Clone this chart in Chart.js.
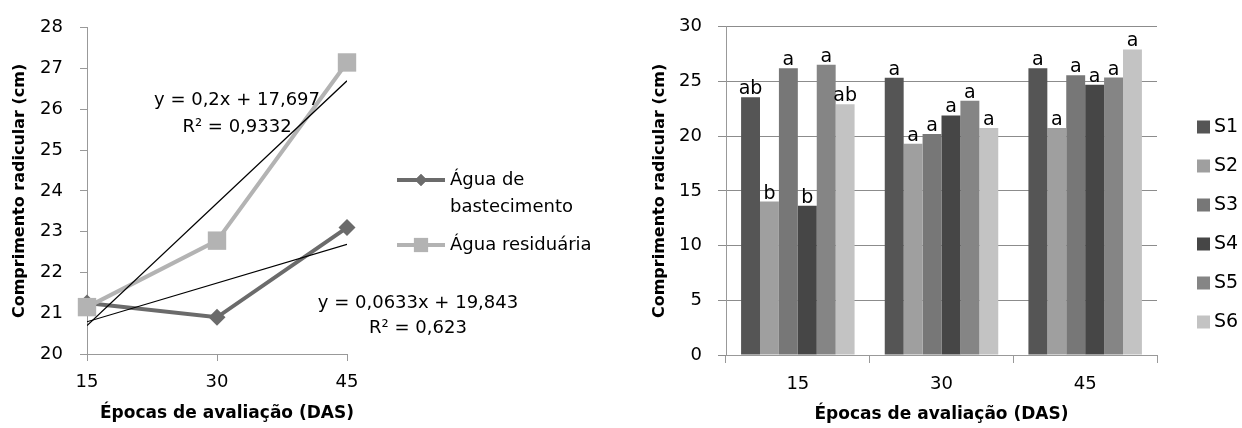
<!DOCTYPE html>
<html>
<head>
<meta charset="utf-8">
<script src="https://cdn.jsdelivr.net/npm/chart.js@4"></script>
<style>
  body { margin: 0; background: #fff; }
  #wrap { position: relative; width: 1242px; height: 428px; }
  canvas { position: absolute; top: 0; }
  #lineChart { left: 0; }
  #barChart { left: 620px; }
</style>
</head>
<body>
<div id="wrap">
  <canvas id="lineChart" width="620" height="428"></canvas>
  <canvas id="barChart" width="622" height="428"></canvas>
</div>
<script>
// Left chart data
const epocas = [15, 30, 45];
const aguaAbastecimento = [21.25, 20.9, 23.1];
const aguaResiduaria = [21.15, 22.78, 27.15];
const trendX = [15, 45];
const trendAbastecimento = [20.79, 22.69];
const trendResiduaria = [20.70, 26.70];

// Right chart data
const barLabels = ['15', '30', '45'];
const seriesNames = ['S1', 'S2', 'S3', 'S4', 'S5', 'S6'];
const s1 = [23.55, 25.34, 26.2];
const s2 = [14.03, 19.31, 20.74];
const s3 = [26.2, 20.2, 25.58];
const s4 = [13.64, 21.9, 24.7];
const s5 = [26.53, 23.25, 25.36];
const s6 = [22.92, 20.74, 27.93];
const lettersS1 = ['ab', 'a', 'a'];
const lettersS2 = ['b', 'a', 'a'];
const lettersS3 = ['a', 'a', 'a'];
const lettersS4 = ['b', 'a', 'a'];
const lettersS5 = ['a', 'a', 'a'];
const lettersS6 = ['ab', 'a', 'a'];

const seriesValues = [s1, s2, s3, s4, s5, s6];
const seriesLetters = [lettersS1, lettersS2, lettersS3, lettersS4, lettersS5, lettersS6];
const barColors = ['#555555', '#9f9f9f', '#777777', '#464646', '#858585', '#c3c3c3'];

const FONT = "'DejaVu Sans', sans-serif";
Chart.defaults.font.family = FONT;
Chart.defaults.font.size = 18;
Chart.defaults.color = '#000';

const axisGray = '#999999';
const darkLine = '#6b6b6b';
const lightLine = '#b3b3b3';

const toXY = (xs, ys) => xs.map((x, i) => ({ x: x, y: ys[i] }));

// equations, x title + legend for the line chart
const lineExtras = {
    id: 'lineExtras',
    afterDraw(chart) {
        const ctx = chart.ctx;
        ctx.save();
        ctx.fillStyle = '#000';
        ctx.textAlign = 'center';
        ctx.textBaseline = 'middle';
        ctx.font = 'bold 17px ' + FONT;
        ctx.fillText('Épocas de avaliação (DAS)', 227, 414);

        ctx.font = '18px ' + FONT;
        ctx.fillText('y = 0,2x + 17,697', 237, 100);
        ctx.fillText('R² = 0,9332', 237, 127);
        ctx.fillText('y = 0,0633x + 19,843', 418, 303);
        ctx.fillText('R² = 0,623', 418, 328);

        // legend
        const rows = [
            { y: 180, color: darkLine, style: 'rectRot', radius: 6, text: ['Água de', 'bastecimento'] },
            { y: 245, color: lightLine, style: 'rect', radius: 10, text: ['Água residuária'] }
        ];
        rows.forEach(r => {
            ctx.strokeStyle = r.color;
            ctx.lineWidth = 4;
            ctx.beginPath();
            ctx.moveTo(397, r.y);
            ctx.lineTo(445, r.y);
            ctx.stroke();
            ctx.fillStyle = r.color;
            Chart.helpers.drawPoint(ctx, { pointStyle: r.style, radius: r.radius, borderWidth: 0 }, 421, r.y);
            ctx.fill();
            ctx.fillStyle = '#000';
            ctx.textAlign = 'left';
            r.text.forEach((t, i) => ctx.fillText(t, 450, r.y + i * 27));
        });
        ctx.restore();
    }
};

new Chart(document.getElementById('lineChart'), {
    type: 'line',
    data: {
        datasets: [
            { label: 'Tendência residuária', data: toXY(trendX, trendResiduaria), borderColor: '#000', borderWidth: 1.2, pointRadius: 0, order: 0 },
            { label: 'Tendência abastecimento', data: toXY(trendX, trendAbastecimento), borderColor: '#000', borderWidth: 1.2, pointRadius: 0, order: 0 },
            {
                label: 'Água residuária', data: toXY(epocas, aguaResiduaria),
                borderColor: lightLine, backgroundColor: lightLine, pointBackgroundColor: lightLine,
                borderWidth: 4, pointStyle: 'rect', pointRadius: 13, pointBorderWidth: 0, clip: false, order: 1
            },
            {
                label: 'Água de bastecimento', data: toXY(epocas, aguaAbastecimento),
                borderColor: darkLine, backgroundColor: darkLine, pointBackgroundColor: darkLine,
                borderWidth: 4, pointStyle: 'rectRot', pointRadius: 8.5, pointBorderWidth: 0, clip: false, order: 2
            }
        ]
    },
    options: {
        responsive: false,
        animation: false,
        events: [],
        layout: { padding: { left: 0, right: 273, top: 19, bottom: 0 } },
        plugins: { legend: { display: false }, tooltip: { enabled: false } },
        scales: {
            x: {
                type: 'linear', min: 15, max: 45,
                ticks: { stepSize: 15, padding: 11 },
                grid: { drawOnChartArea: false, color: axisGray, tickLength: 7 },
                border: { color: axisGray },
                afterFit: s => { s.height = 74; }
            },
            y: {
                min: 20, max: 28,
                ticks: { stepSize: 1, padding: 17 },
                grid: { drawOnChartArea: false, color: axisGray, tickLength: 7 },
                border: { color: axisGray },
                title: { display: true, text: 'Comprimento radicular (cm)', font: { size: 16, weight: 'bold' }, padding: { top: 10, bottom: 0 } },
                afterFit: s => { s.width = 87; }
            }
        }
    },
    plugins: [lineExtras]
});

// letters above bars + legend for the bar chart
const barExtras = {
    id: 'barExtras',
    afterDatasetsDraw(chart) {
        const ctx = chart.ctx;
        ctx.save();
        ctx.fillStyle = '#000';
        ctx.font = '19px ' + FONT;
        ctx.textAlign = 'center';
        ctx.textBaseline = 'alphabetic';
        chart.data.datasets.forEach((ds, i) => {
            chart.getDatasetMeta(i).data.forEach((bar, j) => {
                ctx.fillText(seriesLetters[i][j], bar.x, bar.y - 3);
            });
        });
        ctx.restore();
    },
    afterDraw(chart) {
        const ctx = chart.ctx;
        ctx.save();
        ctx.font = '19px ' + FONT;
        ctx.textAlign = 'left';
        ctx.textBaseline = 'middle';
        seriesNames.forEach((name, i) => {
            const y = 127 + i * 39;
            ctx.fillStyle = barColors[i];
            ctx.fillRect(577, y - 6.5, 13, 13);
            ctx.fillStyle = '#000';
            ctx.fillText(name, 594, y);
        });
        ctx.restore();
    }
};

new Chart(document.getElementById('barChart'), {
    type: 'bar',
    data: {
        labels: barLabels,
        datasets: seriesNames.map((name, i) => ({
            label: name,
            data: seriesValues[i],
            backgroundColor: barColors[i],
            categoryPercentage: 0.79,
            barPercentage: 1
        }))
    },
    options: {
        responsive: false,
        animation: false,
        events: [],
        layout: { padding: { left: 0, right: 85, top: 20, bottom: 0 } },
        plugins: { legend: { display: false }, tooltip: { enabled: false } },
        scales: {
            x: {
                ticks: { padding: 11 },
                grid: { drawOnChartArea: false, color: axisGray, tickLength: 8, offset: true },
                border: { color: axisGray },
                title: { display: true, text: 'Épocas de avaliação (DAS)', font: { size: 17, weight: 'bold' }, padding: { top: 0, bottom: 3 } },
                afterFit: s => { s.height = 73; }
            },
            y: {
                min: 0, max: 30,
                ticks: { stepSize: 5, padding: 16 },
                grid: { color: '#8c8c8c', tickLength: 8 },
                border: { color: axisGray },
                title: { display: true, text: 'Comprimento radicular (cm)', font: { size: 16, weight: 'bold' }, padding: { top: 30, bottom: 0 } },
                afterFit: s => { s.width = 106; }
            }
        }
    },
    plugins: [barExtras]
});
</script>
</body>
</html>
